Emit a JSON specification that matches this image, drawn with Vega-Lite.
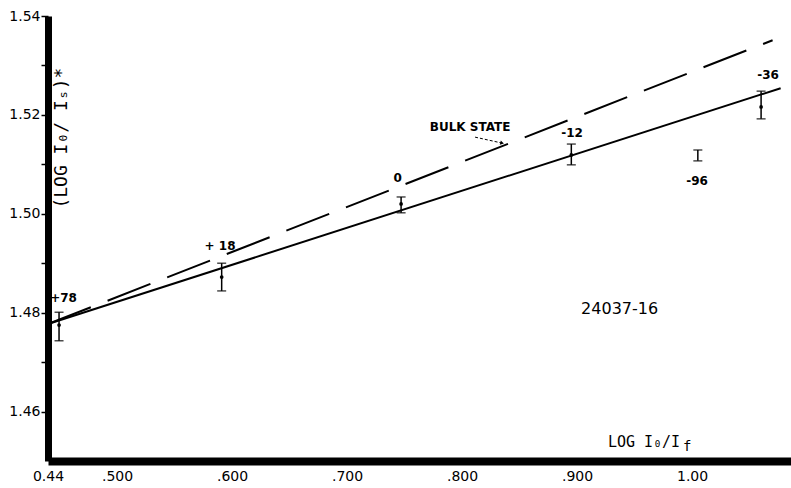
{
  "$schema": "https://vega.github.io/schema/vega-lite/v6.json",
  "width": 743,
  "height": 445,
  "autosize": {"type": "none"},
  "padding": {"left": 48, "top": 16, "right": 0, "bottom": 27},
  "background": "white",
  "config": {
    "view": {"stroke": null},
    "font": "DejaVu Sans",
    "axisX": {
      "domainWidth": 8, "domainColor": "black", "ticks": false,
      "labelFontSize": 14, "labelColor": "black", "labelPadding": 8,
      "labelFlush": false, "grid": false, "title": null
    },
    "axisY": {
      "domainWidth": 7, "domainColor": "black", "tickColor": "black",
      "tickSize": 7, "tickWidth": 1.5, "labelFontSize": 14,
      "labelColor": "black", "labelPadding": 1, "grid": false, "title": null
    }
  },
  "datasets": {
    "solid": [{"x": 0.44, "y": 1.4777}, {"x": 1.077, "y": 1.5254}],
    "dashed": [{"x": 0.44, "y": 1.4777}, {"x": 1.070, "y": 1.5351}],
    "points": [
      {"x": 0.4496, "c": 1.4775, "lo": 1.4743, "hi": 1.4801, "dot": true},
      {"x": 0.591, "c": 1.4872, "lo": 1.4844, "hi": 1.4900, "dot": true},
      {"x": 0.747, "c": 1.5020, "lo": 1.5002, "hi": 1.5034, "dot": true},
      {"x": 0.895, "c": 1.5119, "lo": 1.5099, "hi": 1.5141, "dot": true},
      {"x": 1.060, "c": 1.5216, "lo": 1.5192, "hi": 1.5248, "dot": true},
      {"x": 1.005, "c": 1.5118, "lo": 1.5107, "hi": 1.5129, "dot": false}
    ],
    "labels": [
      {"x": 0.4535, "y": 1.4830, "text": "+78"},
      {"x": 0.5896, "y": 1.4935, "text": "+ 18"},
      {"x": 0.744, "y": 1.5072, "text": "0"},
      {"x": 0.8957, "y": 1.5163, "text": "-12"},
      {"x": 1.066, "y": 1.5281, "text": "-36"},
      {"x": 1.0043, "y": 1.5066, "text": "-96"},
      {"x": 0.807, "y": 1.5175, "text": "BULK STATE"}
    ],
    "ident": [{"x": 0.937, "y": 1.4807, "text": "24037-16"}],
    "xtitle": [{"x": 0.9896, "y": 1.4538, "text": "LOG I₀/I"}],
    "xsub": [{"x": 0.992, "y": 1.4529, "text": "f"}],
    "ytitle": [{"x": 0.4525, "y": 1.5153, "text": "(LOG I₀/ Iₛ)*"}],
    "arrow": [{"x": 0.8113, "y": 1.5155}, {"x": 0.8348, "y": 1.5143}],
    "arrowhead": [{"x": 0.8348, "y": 1.5143}]
  },
  "layer": [
    {
      "data": {"name": "solid"},
      "mark": {"type": "line", "color": "black", "strokeWidth": 2},
      "encoding": {
        "x": {
          "field": "x", "type": "quantitative",
          "scale": {"domain": [0.44, 1.086], "zero": false, "nice": false},
          "axis": {
            "values": [0.44, 0.5, 0.6, 0.7, 0.8, 0.9, 1.0],
            "labelExpr": "datum.value < 0.45 ? '0.44' : (datum.value > 0.99 ? '1.00' : substring(format(datum.value, '.3f'), 1))",
            "title": null
          }
        },
        "y": {
          "field": "y", "type": "quantitative",
          "scale": {"domain": [1.45, 1.54], "zero": false, "nice": false},
          "axis": {
            "values": [1.46, 1.47, 1.48, 1.49, 1.5, 1.51, 1.52, 1.53, 1.54],
            "labelExpr": "indexof(['1.46','1.48','1.50','1.52','1.54'], format(datum.value, '.2f')) >= 0 ? format(datum.value, '.2f') : ''",
            "title": null
          }
        }
      }
    },
    {
      "data": {"name": "dashed"},
      "mark": {"type": "line", "color": "black", "strokeWidth": 2, "strokeDash": [46, 18]},
      "encoding": {
        "x": {"field": "x", "type": "quantitative", "axis": {"title": null}},
        "y": {"field": "y", "type": "quantitative", "axis": {"title": null}}
      }
    },
    {
      "data": {"name": "arrow"},
      "mark": {"type": "line", "color": "black", "strokeWidth": 1, "strokeDash": [3, 2]},
      "encoding": {
        "x": {"field": "x", "type": "quantitative", "axis": {"title": null}},
        "y": {"field": "y", "type": "quantitative", "axis": {"title": null}}
      }
    },
    {
      "data": {"name": "arrowhead"},
      "mark": {"type": "point", "shape": "triangle-right", "filled": true, "color": "black", "size": 18, "opacity": 1, "angle": 14},
      "encoding": {
        "x": {"field": "x", "type": "quantitative", "axis": {"title": null}},
        "y": {"field": "y", "type": "quantitative", "axis": {"title": null}}
      }
    },
    {
      "data": {"name": "points"},
      "mark": {"type": "rule", "color": "black", "strokeWidth": 1.5},
      "encoding": {
        "x": {"field": "x", "type": "quantitative", "axis": {"title": null}},
        "y": {"field": "lo", "type": "quantitative", "axis": {"title": null}},
        "y2": {"field": "hi"}
      }
    },
    {
      "data": {"name": "points"},
      "mark": {"type": "tick", "orient": "horizontal", "color": "black", "size": 9, "thickness": 1.5},
      "encoding": {
        "x": {"field": "x", "type": "quantitative", "axis": {"title": null}},
        "y": {"field": "lo", "type": "quantitative", "axis": {"title": null}}
      }
    },
    {
      "data": {"name": "points"},
      "mark": {"type": "tick", "orient": "horizontal", "color": "black", "size": 9, "thickness": 1.5},
      "encoding": {
        "x": {"field": "x", "type": "quantitative", "axis": {"title": null}},
        "y": {"field": "hi", "type": "quantitative", "axis": {"title": null}}
      }
    },
    {
      "data": {"name": "points"},
      "transform": [{"filter": "datum.dot"}],
      "mark": {"type": "point", "filled": true, "color": "black", "size": 14, "opacity": 1},
      "encoding": {
        "x": {"field": "x", "type": "quantitative", "axis": {"title": null}},
        "y": {"field": "c", "type": "quantitative", "axis": {"title": null}}
      }
    },
    {
      "data": {"name": "labels"},
      "mark": {"type": "text", "font": "DejaVu Sans", "fontWeight": "bold", "fontSize": 12, "color": "black", "baseline": "middle", "align": "center"},
      "encoding": {
        "x": {"field": "x", "type": "quantitative", "axis": {"title": null}},
        "y": {"field": "y", "type": "quantitative", "axis": {"title": null}},
        "text": {"field": "text"}
      }
    },
    {
      "data": {"name": "ident"},
      "mark": {"type": "text", "font": "DejaVu Sans", "fontSize": 16, "color": "black", "baseline": "middle", "align": "center"},
      "encoding": {
        "x": {"field": "x", "type": "quantitative", "axis": {"title": null}},
        "y": {"field": "y", "type": "quantitative", "axis": {"title": null}},
        "text": {"field": "text"}
      }
    },
    {
      "data": {"name": "xtitle"},
      "mark": {"type": "text", "font": "DejaVu Sans Mono", "fontSize": 15, "color": "black", "baseline": "middle", "align": "right"},
      "encoding": {
        "x": {"field": "x", "type": "quantitative", "axis": {"title": null}},
        "y": {"field": "y", "type": "quantitative", "axis": {"title": null}},
        "text": {"field": "text"}
      }
    },
    {
      "data": {"name": "xsub"},
      "mark": {"type": "text", "font": "DejaVu Sans Mono", "fontSize": 14, "color": "black", "baseline": "middle", "align": "left"},
      "encoding": {
        "x": {"field": "x", "type": "quantitative", "axis": {"title": null}},
        "y": {"field": "y", "type": "quantitative", "axis": {"title": null}},
        "text": {"field": "text"}
      }
    },
    {
      "data": {"name": "ytitle"},
      "mark": {"type": "text", "font": "DejaVu Sans Mono", "fontSize": 18, "color": "black", "baseline": "middle", "align": "center", "angle": 270},
      "encoding": {
        "x": {"field": "x", "type": "quantitative", "axis": {"title": null}},
        "y": {"field": "y", "type": "quantitative", "axis": {"title": null}},
        "text": {"field": "text"}
      }
    }
  ]
}
